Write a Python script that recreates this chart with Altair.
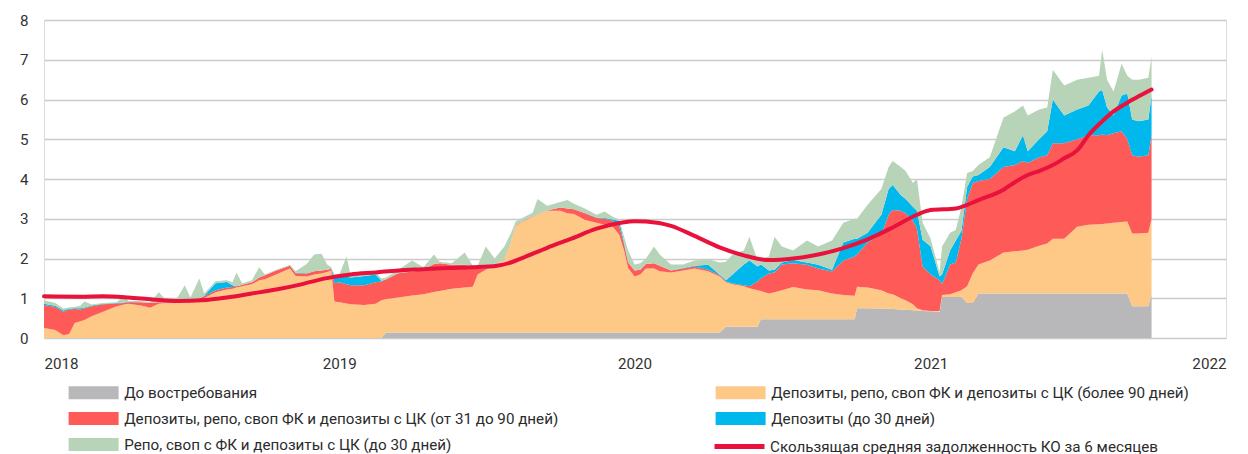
import altair as alt
import pandas as pd

# ---------------- data ----------------
series_names = [
    "До востребования",
    "Депозиты, репо, своп ФК и депозиты с ЦК (более 90 дней)",
    "Депозиты, репо, своп ФК и депозиты с ЦК (от 31 до 90 дней)",
    "Депозиты (до 30 дней)",
    "Репо, своп с ФК и депозиты с ЦК (до 30 дней)",
]
line_name = "Скользящая средняя задолженность КО за 6 месяцев"
area_colors = ["#b8b8ba", "#fec987", "#fe5b58", "#00b8eb", "#b7d4b8"]
line_color = "#e8123c"

dates = [
    # 2018
    "2018-01-01", "2018-01-15", "2018-01-25", "2018-02-01", "2018-02-08", "2018-02-15", "2018-02-20",
    "2018-03-01", "2018-03-15", "2018-04-01", "2018-04-10", "2018-04-15", "2018-05-01", "2018-05-12",
    "2018-05-23", "2018-06-01", "2018-06-15", "2018-06-24", "2018-07-01", "2018-07-12", "2018-07-18",
    "2018-08-01", "2018-08-15", "2018-08-22", "2018-08-27", "2018-09-03", "2018-09-15", "2018-09-24",
    "2018-10-01", "2018-10-15", "2018-11-01", "2018-11-08", "2018-11-22", "2018-12-01", "2018-12-10",
    "2018-12-17", "2018-12-22", "2018-12-26",
    # 2019
    "2019-01-01", "2019-01-10", "2019-01-15", "2019-02-01", "2019-02-15", "2019-02-22", "2019-02-28",
    "2019-03-15", "2019-04-01", "2019-04-15", "2019-04-28", "2019-05-05", "2019-05-20", "2019-06-05",
    "2019-06-15", "2019-06-21", "2019-07-01", "2019-07-12", "2019-07-24", "2019-08-01", "2019-08-07",
    "2019-08-18", "2019-08-28", "2019-09-03", "2019-09-15", "2019-10-01", "2019-10-10", "2019-10-18",
    "2019-11-01", "2019-11-15", "2019-11-25", "2019-12-05", "2019-12-13", "2019-12-19", "2019-12-24",
    # 2020
    "2020-01-01", "2020-01-08", "2020-01-15", "2020-01-25", "2020-02-01", "2020-02-15", "2020-03-01",
    "2020-03-15", "2020-04-01", "2020-04-15", "2020-04-23", "2020-05-01", "2020-05-15", "2020-05-22",
    "2020-06-01", "2020-06-05", "2020-06-15", "2020-06-22", "2020-07-01", "2020-07-15", "2020-08-01",
    "2020-08-15", "2020-09-01", "2020-09-15", "2020-09-29", "2020-10-02", "2020-10-15", "2020-11-01",
    "2020-11-10", "2020-11-15", "2020-11-25", "2020-12-01", "2020-12-10", "2020-12-15", "2020-12-22",
    # 2021
    "2021-01-01", "2021-01-12", "2021-01-15", "2021-01-25", "2021-02-01", "2021-02-08", "2021-02-15",
    "2021-02-22", "2021-03-01", "2021-03-15", "2021-04-01", "2021-04-15", "2021-04-25", "2021-05-01",
    "2021-05-15", "2021-05-25", "2021-06-01", "2021-06-15", "2021-07-01", "2021-07-15", "2021-07-28",
    "2021-08-01", "2021-08-07", "2021-08-15", "2021-08-25", "2021-09-01", "2021-09-07", "2021-09-15",
    "2021-09-27", "2021-10-01",
]

on_demand = (
    [0.0] * 38
    + [0.0] * 6 + [0.14] * 29
    + [0.14] * 10 + [0.28] * 5 + [0.47] * 10
    + [0.75, 0.75, 0.74, 0.74, 0.73, 0.72, 0.71, 0.70, 0.69, 0.68]
    + [0.67, 0.66, 1.03, 1.03, 1.03, 1.04, 0.88, 0.88, 1.12, 1.12]
    + [1.12] * 16 + [0.80, 0.80, 0.80, 1.10]
)

over_90 = [
    0.25, 0.20, 0.07, 0.10, 0.38, 0.42, 0.45, 0.55, 0.66, 0.80, 0.84, 0.86, 0.82, 0.76, 0.86, 0.88, 0.90, 0.91, 0.93,
    0.95, 1.00, 1.15, 1.22, 1.24, 1.27, 1.30, 1.35, 1.45, 1.48, 1.60, 1.75, 1.56, 1.55, 1.60, 1.62, 1.66, 1.70, 0.92,
    0.90, 0.87, 0.85, 0.83, 0.86, 0.95, 0.84, 0.88, 0.93, 0.96, 1.02, 1.04, 1.10, 1.13, 1.15, 1.46, 1.58, 1.72,
    1.82, 2.26, 2.68, 2.81, 2.91, 2.96, 3.06, 3.06, 3.00, 2.98, 2.83, 2.76, 2.71, 2.66, 2.46, 2.06, 1.62,
    1.41, 1.46, 1.61, 1.61, 1.54, 1.51, 1.56, 1.61, 1.54, 1.41, 1.12, 1.07, 1.02, 0.97, 0.92, 0.71, 0.65, 0.68,
    0.73, 0.81, 0.75, 0.73, 0.65, 0.61, 0.59, 0.54, 0.52, 0.46, 0.38, 0.37, 0.28, 0.24, 0.15, 0.06, 0.02,
    0.01, 0.02, 0.05, 0.07, 0.12, 0.16, 0.42, 0.75, 0.73, 0.83, 1.03, 1.06, 1.08, 1.10, 1.20, 1.26, 1.38, 1.38,
    1.68, 1.73, 1.74, 1.75, 1.76, 1.78, 1.80, 1.81, 1.83, 1.83, 1.85, 1.90,
]

d31_90 = [
    0.58, 0.58, 0.59, 0.62, 0.35, 0.30, 0.30, 0.25, 0.19, 0.07, 0.04, 0.04, 0.08, 0.12, 0.04, 0.02, 0.02, 0.02, 0.02,
    0.05, 0.05, 0.05, 0.05, 0.04, 0.03, 0.04, 0.05, 0.07, 0.10, 0.10, 0.07, 0.07, 0.07, 0.08, 0.08, 0.06, 0.04, 0.46,
    0.50, 0.48, 0.48, 0.50, 0.54, 0.47, 0.50, 0.61, 0.60, 0.61, 0.70, 0.70, 0.60, 0.57, 0.49, 0.14, 0.03, 0.01,
    0.01, 0.01, 0.01, 0.01, 0.01, 0.01, 0.01, 0.08, 0.12, 0.12, 0.17, 0.12, 0.15, 0.15, 0.22, 0.15, 0.14,
    0.15, 0.12, 0.11, 0.13, 0.14, 0.05, 0.05, 0.05, 0.04, 0.03, 0.02, 0.02, 0.03, 0.05, 0.22, 0.32, 0.50, 0.50,
    0.65, 0.60, 0.62, 0.55, 0.55, 0.87, 0.99, 0.81, 1.13, 1.40, 1.98, 2.12, 2.20, 2.19, 2.10, 2.00, 1.10,
    0.92, 0.77, 0.27, 0.75, 0.75, 1.30, 2.20, 2.27, 2.10, 2.05, 2.15, 2.17, 2.25, 2.18, 2.23, 2.22, 2.40, 2.40,
    2.20, 2.25, 2.24, 2.25, 2.22, 2.25, 2.28, 2.07, 1.97, 1.93, 1.95, 2.10,
]

dep_30 = [
    0.03, 0.03, 0.03, 0.02, 0.02, 0.03, 0.02, 0.02, 0.01, 0.01, 0.01, 0.01, 0.0, 0.0, 0.0, 0.0, 0.0, 0.0, 0.0,
    0.0, 0.01, 0.18, 0.14, 0.05, 0.0, 0.0, 0.0, 0.0, 0.0, 0.0, 0.0, 0.01, 0.01, 0.0, 0.0, 0.0, 0.0, 0.17,
    0.16, 0.20, 0.19, 0.23, 0.20, 0.02, 0.0, 0.0, 0.0, 0.0, 0.0, 0.0, 0.0, 0.0, 0.0, 0.0, 0.0, 0.0,
    0.0, 0.0, 0.0, 0.0, 0.0, 0.0, 0.0, 0.0, 0.0, 0.0, 0.0, 0.01, 0.02, 0.03, 0.13, 0.05, 0.0,
    0.0, 0.0, 0.0, 0.0, 0.0, 0.0, 0.01, 0.02, 0.12, 0.02, 0.03, 0.23, 0.52, 0.65, 0.38, 0.35, 0.08, 0.07,
    0.05, 0.08, 0.06, 0.09, 0.05, 0.45, 0.45, 0.40, 0.25, 0.50, 0.65, 0.63, 0.40, 0.36, 0.35, 0.45, 0.67,
    0.70, 0.10, 0.25, 0.35, 0.55, 0.20, 0.30, 0.16, 0.15, 0.30, 0.50, 0.35, 0.65, 0.30, 0.45, 0.60, 1.10, 0.70,
    0.75, 0.75, 1.10, 1.12, 0.70, 0.45, 0.90, 1.15, 0.90, 0.89, 0.90, 1.00,
]

repo_30 = [
    0.09, 0.07, 0.05, 0.03, 0.03, 0.07, 0.15, 0.02, 0.02, 0.02, 0.19, 0.02, 0.03, 0.02, 0.25, 0.05, 0.10, 0.40, 0.07,
    0.50, 0.06, 0.05, 0.04, 0.07, 0.35, 0.03, 0.05, 0.26, 0.02, 0.02, 0.02, 0.04, 0.24, 0.42, 0.42, 0.13, 0.04, 0.05,
    0.04, 0.50, 0.06, 0.04, 0.06, 0.06, 0.04, 0.09, 0.28, 0.07, 0.24, 0.04, 0.04, 0.31, 0.04, 0.08, 0.55, 0.13,
    0.33, 0.22, 0.10, 0.09, 0.09, 0.39, 0.12, 0.14, 0.21, 0.14, 0.11, 0.07, 0.16, 0.07, 0.03, 0.15, 0.30,
    0.15, 0.16, 0.14, 0.42, 0.28, 0.15, 0.09, 0.13, 0.14, 0.30, 0.47, 0.50, 0.35, 0.60, 0.15, 0.15, 0.35, 0.83,
    0.40, 0.24, 0.55, 0.46, 0.73, 0.50, 0.50, 0.50, 0.70, 0.65, 0.55, 0.60, 0.70, 0.70, 0.60, 0.80, 0.43,
    0.20, 0.10, 0.70, 0.45, 0.27, 0.60, 0.35, 0.14, 0.25, 0.25, 0.75, 1.00, 0.75, 0.90, 0.75, 0.60, 0.75, 0.75,
    0.75, 0.70, 0.40, 1.01, 0.70, 0.60, 0.80, 0.45, 1.00, 1.05, 1.05, 0.98,
]

line_dates = [
    "2018-01-01", "2018-02-15", "2018-03-15", "2018-04-15", "2018-05-15", "2018-06-15", "2018-07-15", "2018-08-15",
    "2018-09-15", "2018-10-15", "2018-11-15", "2018-12-15",
    "2019-01-15", "2019-02-15", "2019-03-15", "2019-04-15", "2019-05-15", "2019-06-15", "2019-07-15", "2019-08-01",
    "2019-08-15", "2019-09-15", "2019-10-15", "2019-11-15", "2019-12-15",
    "2020-01-01", "2020-01-15", "2020-02-15", "2020-03-15", "2020-04-15", "2020-05-15", "2020-06-15", "2020-07-15",
    "2020-08-15", "2020-09-15", "2020-10-15", "2020-11-15", "2020-12-15",
    "2021-01-01", "2021-02-01", "2021-03-01", "2021-04-01", "2021-04-15", "2021-05-01", "2021-05-15", "2021-06-01",
    "2021-06-15", "2021-07-01", "2021-07-15", "2021-08-01", "2021-08-15", "2021-09-01", "2021-09-15", "2021-10-01",
]
moving_avg = [
    1.05, 1.04, 1.05, 1.02, 0.97, 0.93, 0.95, 1.02, 1.12, 1.22, 1.35, 1.50,
    1.60, 1.65, 1.70, 1.73, 1.76, 1.78, 1.82, 1.90, 2.01, 2.27, 2.50, 2.75, 2.90,
    2.94, 2.93, 2.82, 2.57, 2.28, 2.08, 1.96, 2.00, 2.10, 2.26, 2.48, 2.78, 3.10,
    3.22, 3.26, 3.47, 3.73, 3.92, 4.10, 4.20, 4.35, 4.52, 4.72, 5.10, 5.45, 5.70, 5.92, 6.08, 6.25,
]

year_ticks = [2018, 2019, 2020, 2021, 2022]
y_ticks = [0, 1, 2, 3, 4, 5, 6, 7, 8]

# ---------------- tables ----------------
layers = [on_demand, over_90, d31_90, dep_30, repo_30]
rows = []
for k, (name, vals) in enumerate(zip(series_names, layers)):
    for d, v in zip(dates, vals):
        rows.append({"date": d, "value": v, "series": name, "k": k})
area_df = pd.DataFrame(rows)
line_df = pd.DataFrame({"date": line_dates, "value": moving_avg, "series": line_name})

FONT = "Roboto"
FS = 15.2
LABEL_COLOR = "#2b2b2b"

x_scale = alt.Scale(
    type="utc",
    domain=[alt.DateTime(year=year_ticks[0], month=1, date=1, utc=True),
            alt.DateTime(year=year_ticks[-1], month=1, date=1, utc=True)],
)
x_axis = alt.Axis(
    values=[alt.DateTime(year=yv, month=1, date=1, utc=True) for yv in year_ticks],
    format="%Y", formatType="utc", title=None, grid=False, domain=False, ticks=False,
    labelPadding=18, labelFontSize=FS, labelFont=FONT, labelColor="#333333",
)
y_scale = alt.Scale(domain=[0, 8], nice=False)
y_axis = alt.Axis(
    values=y_ticks, title=None, grid=True, gridColor="#cbcbcb", gridWidth=1.3,
    domain=False, ticks=False, labelPadding=16, labelFontSize=FS, labelFont=FONT, labelColor="#333333",
)

# swatch: 50 x 13 px drawn from a 13 px symbol (r = 6.5)
rect_path = "M-3.846,-1L3.846,-1L3.846,1L-3.846,1Z"
common_legend = dict(
    title=None, orient="none", symbolOpacity=1,
    labelFontSize=FS, labelFont=FONT, labelColor=LABEL_COLOR, labelLimit=700,
)
area_legend = alt.Legend(
    legendX=42, legendY=365, columns=2, direction="horizontal",
    symbolType=rect_path, symbolSize=169, symbolStrokeWidth=0, labelOffset=23,
    columnPadding=156, rowPadding=10, **common_legend,
)
line_legend = alt.Legend(
    legendX=668, legendY=399, symbolType="stroke", symbolSize=2500, symbolStrokeWidth=5,
    labelOffset=3, **common_legend,
)

areas = alt.Chart(area_df).mark_area(interpolate="linear").encode(
    x=alt.X("date:T", scale=x_scale, axis=x_axis),
    y=alt.Y("value:Q", stack="zero", scale=y_scale, axis=y_axis),
    fill=alt.Fill("series:N", scale=alt.Scale(domain=series_names, range=area_colors), legend=area_legend),
    order=alt.Order("k:Q", sort="ascending"),
)

line = alt.Chart(line_df).mark_line(strokeWidth=4, interpolate="monotone", strokeCap="round").encode(
    x=alt.X("date:T", scale=x_scale, axis=x_axis),
    y=alt.Y("value:Q", scale=y_scale, axis=y_axis),
    stroke=alt.Stroke("series:N", scale=alt.Scale(domain=[line_name], range=[line_color]), legend=line_legend),
)

chart = alt.layer(areas, line).resolve_scale(
    fill="independent", stroke="independent"
).properties(
    width=1182, height=318,
    autosize="none",
    padding={"left": 36, "top": 12, "right": 14, "bottom": 116},
).configure_view(stroke=None).configure(font=FONT)

chart.save("out.html", embed_options={"renderer": "svg", "actions": False})
